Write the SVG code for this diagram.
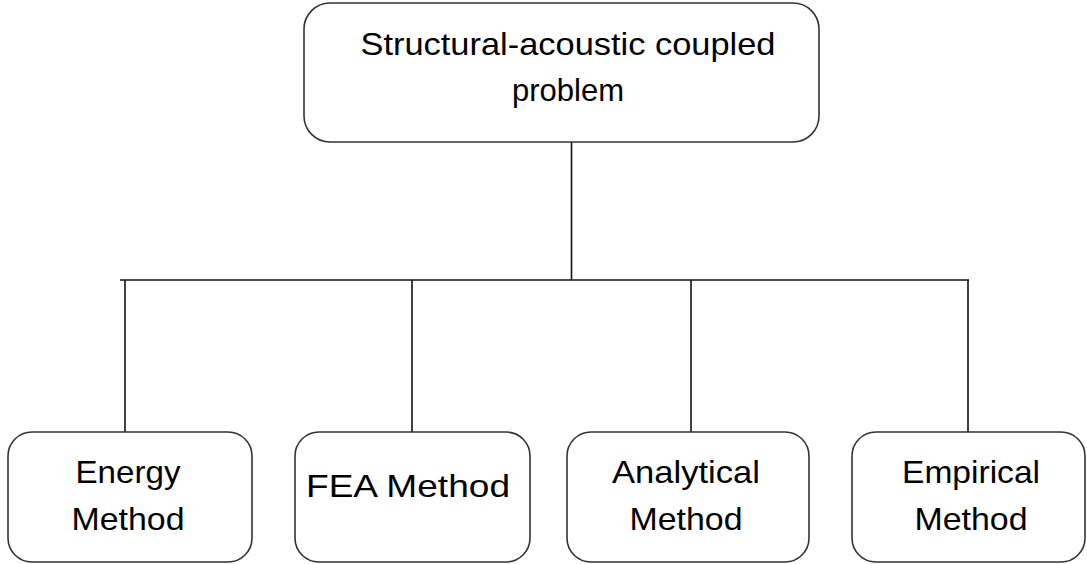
<svg xmlns="http://www.w3.org/2000/svg" width="1087" height="564" viewBox="0 0 1087 564">
<style>
.box{fill:#fff;stroke:#333;stroke-width:1.6}
.t{font-family:"Liberation Sans",Arial,sans-serif;font-size:32px;fill:#000;text-anchor:middle}
.c{stroke:#111;stroke-width:1.6;fill:none}
</style>
<rect width="1087" height="564" fill="#fff"/>
<g id="connectors">
<line class="c" x1="571.5" y1="142" x2="571.5" y2="280"/>
<line class="c" x1="120" y1="280" x2="969" y2="280"/>
<line class="c" x1="125" y1="280" x2="125" y2="432"/>
<line class="c" x1="412" y1="280" x2="412" y2="432"/>
<line class="c" x1="691" y1="280" x2="691" y2="432"/>
<line class="c" x1="968" y1="280" x2="968" y2="432"/>
</g>
<g id="root">
<rect class="box" x="304" y="3" width="515" height="139" rx="26"/>
<text class="t" x="568" y="55" textLength="415" lengthAdjust="spacingAndGlyphs">Structural-acoustic coupled</text>
<text class="t" x="568" y="101" textLength="112" lengthAdjust="spacingAndGlyphs">problem</text>
</g>
<g id="energy">
<rect class="box" x="8" y="432" width="244" height="130" rx="24"/>
<text class="t" x="128" y="483" textLength="105" lengthAdjust="spacingAndGlyphs">Energy</text>
<text class="t" x="128" y="530" textLength="113" lengthAdjust="spacingAndGlyphs">Method</text>
</g>
<g id="fea">
<rect class="box" x="295" y="432" width="235" height="130" rx="24"/>
<text class="t" x="408" y="497" textLength="204" lengthAdjust="spacingAndGlyphs">FEA Method</text>
</g>
<g id="analytical">
<rect class="box" x="567" y="432" width="242" height="130" rx="24"/>
<text class="t" x="686" y="483" textLength="148" lengthAdjust="spacingAndGlyphs">Analytical</text>
<text class="t" x="686" y="530" textLength="113" lengthAdjust="spacingAndGlyphs">Method</text>
</g>
<g id="empirical">
<rect class="box" x="852" y="432" width="233" height="130" rx="24"/>
<text class="t" x="971" y="483" textLength="138" lengthAdjust="spacingAndGlyphs">Empirical</text>
<text class="t" x="971" y="530" textLength="113" lengthAdjust="spacingAndGlyphs">Method</text>
</g>
</svg>
